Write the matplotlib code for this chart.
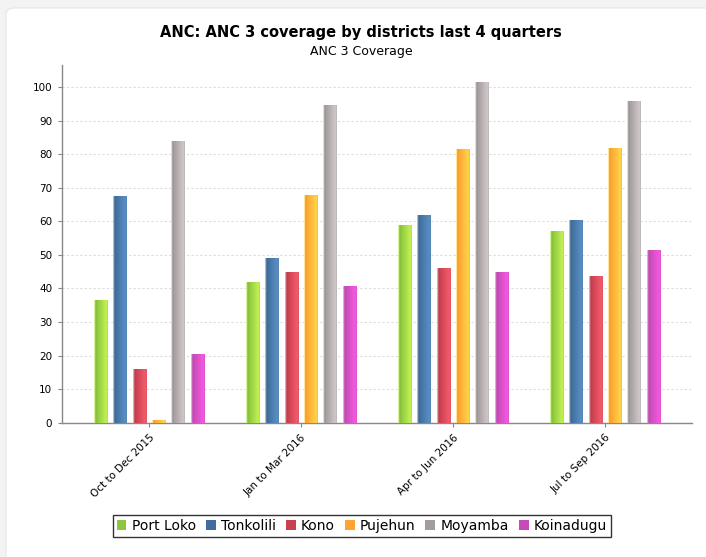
import matplotlib
matplotlib.use("Agg")
import matplotlib.pyplot as plt
import numpy as np
from matplotlib.patches import FancyBboxPatch, Patch
from matplotlib.colors import to_rgb

quarters = ["Oct to Dec 2015", "Jan to Mar 2016", "Apr to Jun 2016", "Jul to Sep 2016"]
districts = ["Port Loko", "Tonkolili", "Kono", "Pujehun", "Moyamba", "Koinadugu"]
port_loko = [36.5, 42.0, 59.0, 57.0]
tonkolili = [67.5, 49.0, 62.0, 60.3]
kono = [16.0, 45.0, 46.0, 43.8]
pujehun = [0.7, 67.8, 81.5, 81.9]
moyamba = [84.0, 94.8, 101.5, 96.0]
koinadugu = [20.5, 40.8, 45.0, 51.6]
series = [port_loko, tonkolili, kono, pujehun, moyamba, koinadugu]
colors = ["#8cc63f", "#3f6e9c", "#c9404f", "#ffa333", "#a39c9c", "#c74bb6"]
bright = ["#c2f252", "#5a8fc4", "#f25c6c", "#ffd548", "#d0c8c8", "#f45ae0"]

fig = plt.figure(figsize=(7.06, 5.57), dpi=100)
fig.patch.set_facecolor("#f3f3f3")
card = FancyBboxPatch((6/706, -0.05), 1.2, 1 - 8/557 + 0.05,
                      boxstyle="round,pad=0,rounding_size=0.012",
                      transform=fig.transFigure, facecolor="white",
                      edgecolor="#e6e6e6", linewidth=0.8, zorder=-10)
fig.patches.append(card)

ax = fig.add_axes([62/706, 1 - 422.7/557, 630/706, (422.7 - 65)/557])
ax.set_zorder(1)
ax.set_facecolor("none")

n = len(series)
slot = 19.3 / 152
bw = 13.5 / 152
x = np.arange(len(quarters))
for i, (vals, c, b) in enumerate(zip(series, colors, bright)):
    offs = (i - (n - 1) / 2) * slot
    bars = ax.bar(x + offs, vals, width=bw, color=c, edgecolor="none", zorder=3)
    cc = np.array(to_rgb(c))
    bb = np.array(to_rgb(b))
    wht = np.array([1.0, 1.0, 1.0])
    stops = [0.0, 0.07, 0.1, 0.18, 0.9, 1.0]
    cols = [0.45 * wht + 0.55 * bb, 0.45 * wht + 0.55 * bb, 0.85 * cc, cc, bb, 0.9 * bb]
    t = np.linspace(0, 1, 64)
    grad = np.zeros((1, 64, 3))
    for k in range(3):
        grad[0, :, k] = np.interp(t, stops, [cl[k] for cl in cols])
    for p in bars.patches:
        x0 = p.get_x(); w = p.get_width(); h = p.get_height()
        im = ax.imshow(grad, extent=(x0, x0 + w, 0, h), aspect="auto",
                       interpolation="bilinear", zorder=4)
        im.set_clip_path(p)

ax.set_xlim(-87/152, 3 + 87/152)
ax.set_ylim(0, 106.6)
ax.set_yticks(np.arange(0, 101, 10))
ax.set_xticks(x)
ax.set_xticklabels(quarters, rotation=45, ha="right", rotation_mode="anchor", fontsize=7.5)
ax.tick_params(axis="y", labelsize=7.5, length=3, color="#888888", pad=4)
ax.tick_params(axis="x", length=3, color="#888888", pad=4)
ax.grid(axis="y", color="#dddddd", linestyle=(0, (2, 2)), linewidth=0.8, zorder=0)
for s in ["top", "right"]:
    ax.spines[s].set_visible(False)
for s in ["left", "bottom"]:
    ax.spines[s].set_color("#888888")
    ax.spines[s].set_linewidth(1.0)

fig.text(361/706, 1 - 33/557, "ANC: ANC 3 coverage by districts last 4 quarters",
         ha="center", va="center", fontsize=10.5, fontweight="bold")
fig.text(361/706, 1 - 51/557, "ANC 3 Coverage", ha="center", va="center", fontsize=9)

handles = [Patch(facecolor=c, edgecolor="none") for c in colors]
leg = fig.legend(handles, districts, loc="center", bbox_to_anchor=(362/706, 1 - 526/557),
                 ncol=6, frameon=True, fancybox=False, fontsize=10,
                 handlelength=0.7, handleheight=0.7, handletextpad=0.4,
                 columnspacing=0.7, borderpad=0.3, borderaxespad=0)
leg.get_frame().set_edgecolor("black")
leg.get_frame().set_linewidth(1.0)

fig.savefig("out.png", dpi=100, facecolor=fig.get_facecolor())
